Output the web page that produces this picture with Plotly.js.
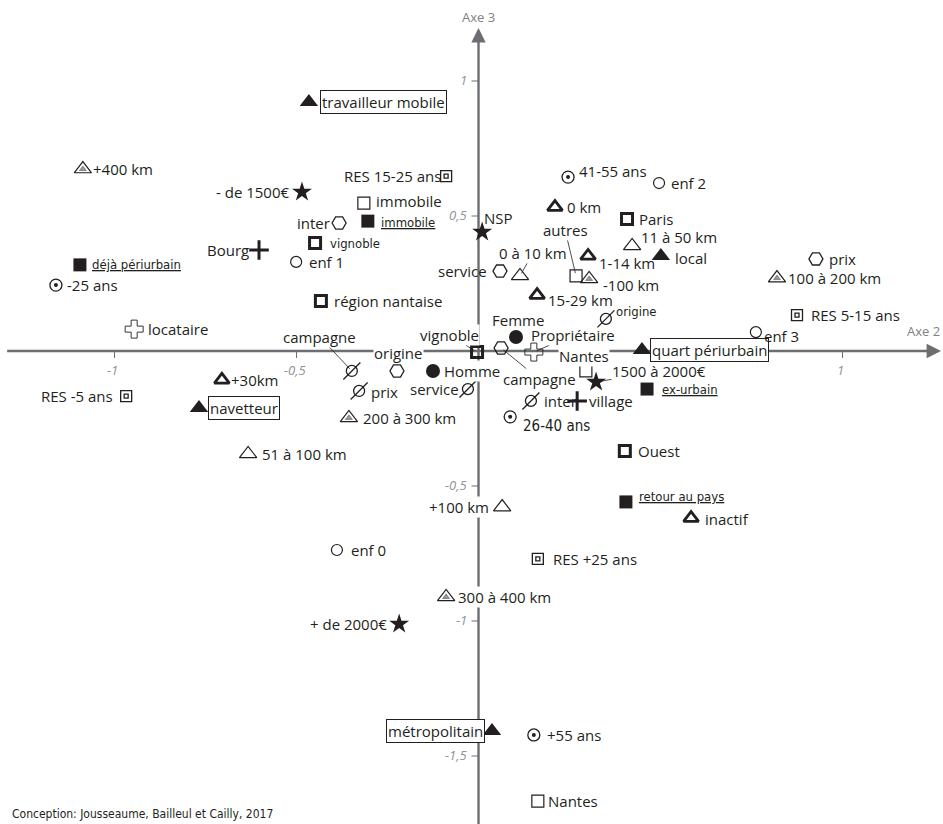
<!DOCTYPE html>
<html><head><meta charset="utf-8">
<script src="https://cdn.plot.ly/plotly-3.0.1.min.js"></script>
<style>html,body{margin:0;padding:0;background:#fff}#chart{width:943px;height:824px}</style>
</head><body><div id="chart"></div>
<script>
// ---------- DATA (coordinates on Axe 2 / Axe 3) ----------
const filledTriLabels = ['travailleur mobile','local','quart périurbain','navetteur','métropolitain'];
const filledTriX = [-0.466, 0.501, 0.449, -0.768, 0.037];
const filledTriY = [0.922, 0.352, 0.004, -0.211, -1.407];

const boldTriLabels = ['0 km','1-14 km','15-29 km','+30km','inactif'];
const boldTriX = [0.210, 0.301, 0.161, -0.705, 0.584];
const boldTriY = [0.533, 0.352, 0.207, -0.107, -0.619];

const thinTriLabels = ['11 à 50 km','0 à 10 km','51 à 100 km','+100 km'];
const thinTriX = [0.422, 0.114, -0.633, 0.065];
const thinTriY = [0.389, 0.278, -0.381, -0.578];

const dotTriLabels = ['+400 km','-100 km','100 à 200 km','200 à 300 km','300 à 400 km'];
const dotTriX = [-1.087, 0.304, 0.820, -0.356, -0.089];
const dotTriY = [0.674, 0.267, 0.270, -0.248, -0.911];

const thinSqLabels = ['immobile','autres','Nantes','Nantes'];
const thinSqX = [-0.315, 0.268, 0.295, 0.163];
const thinSqY = [0.548, 0.278, -0.074, -1.667];

const boldSqLabels = ['vignoble','Paris','région nantaise','Ouest','vignoble'];
const boldSqX = [-0.449, 0.408, -0.433, 0.402, -0.004];
const boldSqY = [0.400, 0.489, 0.185, -0.370, -0.004];

const filledSqLabels = ['immobile','déjà périurbain','ex-urbain','retour au pays'];
const filledSqX = [-0.304, -1.095, 0.463, 0.405];
const filledSqY = [0.481, 0.319, -0.141, -0.559];

const resLabels = ['RES 15-25 ans','RES -5 ans','RES 5-15 ans','RES +25 ans'];
const resX = [-0.089, -0.968, 0.875, 0.163];
const resY = [0.648, -0.167, 0.133, -0.770];

const enfLabels = ['enf 1','enf 2','enf 3','enf 0'];
const enfX = [-0.501, 0.496, 0.762, -0.389];
const enfY = [0.330, 0.622, 0.070, -0.737];

const ageLabels = ['-25 ans','26-40 ans','41-55 ans','+55 ans'];
const ageX = [-1.161, 0.087, 0.246, 0.152];
const ageY = [0.244, -0.244, 0.644, -1.422];

const sexLabels = ['Femme','Homme'];
const sexX = [0.103, -0.125];
const sexY = [0.052, -0.074];

const revenuLabels = ['- de 1500€','NSP','1500 à 2000€','+ de 2000€'];
const revenuX = [-0.485, 0.010, 0.323, -0.218];
const revenuY = [0.589, 0.441, -0.115, -1.011];

const hexLabels = ['inter','service','prix','origine','campagne'];
const hexX = [-0.383, 0.059, 0.927, -0.224, 0.062];
const hexY = [0.474, 0.296, 0.341, -0.074, 0.011];

const slashLabels = ['campagne','prix','service','origine','inter'];
const slashX = [-0.348, -0.328, -0.029, 0.350, 0.144];
const slashY = [-0.074, -0.148, -0.141, 0.119, -0.185];

const plusLabels = ['Bourg','village'];
const plusX = [-0.603, 0.271];
const plusY = [0.374, -0.185];

const statutLabels = ['locataire','Propriétaire'];
const statutX = [-0.946, 0.152];
const statutY = [0.081, -0.004];

const xTickVals = [-1, -0.5, 1];
const xTickText = ['-1', '-0,5', '1'];
const yTickVals = [1, 0.5, -0.5, -1, -1.5];
const yTickText = ['1', '0,5', '-0,5', '-1', '-1,5'];

// ---------- LABEL PLACEMENT (pixel offsets, styles) ----------
const filledTriPlace = [{dx:11,box:1},{dx:13,dy:2},{dx:8,box:1},{dx:9,box:1},{dx:-7,an:'r',box:1}];
const boldTriPlace = [{dx:11},{dx:10,dy:7},{dx:10,dy:5},{dx:8},{dx:13,dy:1}];
const thinTriPlace = [{dx:8,dy:-9},{lead:[13,-23]},{dx:13},{dx:-12,an:'r',bg:1}];
const dotTriPlace = [{dx:9},{dx:13,dy:6},{dx:10},{dx:13},{dx:11,bg:1}];
const thinSqPlace = [{dx:11,dy:-2},{lead:[-11,-46]},{dx:-2,dy:-15,an:'c',bg:1},{dx:9}];
const boldSqPlace = [{dx:14,st:'c'},{dx:11},{dx:12},{dx:12},{lead:[-28,-17],bg:1}];
const filledSqPlace = [{dx:12,dy:1,st:'u'},{dx:11,st:'u'},{dx:14,st:'u'},{dx:12,dy:-5,st:'u'}];
const resPlace = [{dx:-4,an:'r'},{dx:-12,an:'r'},{dx:13},{dx:14}];
const enfPlace = [{dx:12},{dx:11},{dx:7,dy:4},{dx:13}];
const agePlace = [{dx:10},{dx:12,dy:9,st:'C'},{dx:10,dy:-6},{dx:12}];
const sexPlace = [{dx:2,dy:-17,an:'c'},{dx:10,bg:1}];
const revenuPlace = [{dx:-11,an:'r'},{dx:1,dy:-14},{lead:[63,-11]},{dx:-11,an:'r'}];
const hexPlace = [{dx:-8,an:'r'},{dx:-12,an:'r'},{dx:12},{dx:2,dy:-18,an:'c',bg:1},{lead:[38,31]}];
const slashPlace = [{lead:[-32,-34]},{dx:11,dy:1},{dx:-8,an:'r'},{dx:9,dy:-7,st:'c'},{dx:12}];
const plusPlace = [{dx:-9,an:'r'},{dx:11}];
const statutPlace = [{dx:13},{lead:[39,-17]}];

// ---------- STYLE ----------
const INK = '#231f20';
const AXIS = '#6d6e71';
const TICK = '#8f939a';
const textFont = {family:'Open Sans, Noto Sans, sans-serif', size:15, color:INK};
const condFont = {family:'Liberation Sans Narrow, DejaVu Sans Condensed, Roboto, sans-serif', size:13, color:INK};
const condFontBig = {family:'Liberation Sans Narrow, DejaVu Sans Condensed, Roboto, sans-serif', size:15, color:INK};

function mk(x, y, symbol, size, opts) {
  opts = opts || {};
  return {
    type:'scatter', mode:'markers', x:x, y:y, hoverinfo:'skip', showlegend:false,
    marker:{symbol:symbol, size:size, color:opts.color || INK,
            line:{width:opts.lw === undefined ? 0 : opts.lw, color:opts.lc || INK}}
  };
}

const traces = [
  mk(filledTriX, filledTriY, 'triangle-up', 16),
  mk(boldTriX, boldTriY, 'triangle-up-open', 13, {lw:2.8}),
  mk(thinTriX, thinTriY, 'triangle-up-open', 15, {lw:1.2}),
  mk(dotTriX, dotTriY, 'triangle-up-open', 15, {lw:1.2}),
  mk(dotTriX, dotTriY, 'triangle-up', 6, {color:'#9a9a9a', lw:0.6, lc:'#555'}),
  mk(thinSqX, thinSqY, 'square-open', 12, {lw:1.2}),
  mk(boldSqX, boldSqY, 'square-open', 11, {lw:3}),
  mk(filledSqX, filledSqY, 'square', 13),
  mk(resX, resY, 'square-open', 11, {lw:1.3}),
  mk(resX, resY, 'square-open', 4, {lw:1.3}),
  mk(enfX, enfY, 'circle-open', 11, {lw:1.2}),
  mk(ageX, ageY, 'circle-open', 12, {lw:1.3}),
  mk(ageX, ageY, 'circle', 4),
  mk(sexX, sexY, 'circle', 14),
  mk(revenuX, revenuY, 'star', 15),
  mk(hexX, hexY, 'hexagon2-open', 14, {lw:1.3}),
  mk(slashX, slashY, 'circle-open', 11, {lw:1.3}),
  mk(slashX, slashY, 'line-ne', 17, {lw:1.3}),
  mk(plusX, plusY, 'cross-thin-open', 14, {lw:3}),
  mk(statutX, statutY, 'cross-open', 15, {lw:0.9})
];

function labelAnn(text, x, y, p) {
  const a = {x:x, y:y, xref:'x', yref:'y', text:text, showarrow:false,
    font:(p.st === 'u' || p.st === 'c') ? condFont : (p.st === 'C' ? condFontBig : textFont),
    xanchor:{l:'left', r:'right', c:'center'}[p.an || 'l'], yanchor:'middle',
    xshift:p.dx || 0, yshift:-(p.dy || 0), borderpad:0};
  if (p.st === 'u') a.text = '<u>' + text + '</u>';
  if (p.box) { a.bordercolor = INK; a.borderwidth = 1; a.borderpad = 1; a.bgcolor = '#fff'; }
  if (p.bg) a.bgcolor = '#fff';
  if (p.lead) {
    a.showarrow = true; a.arrowhead = 0; a.arrowwidth = 0.8; a.arrowcolor = INK;
    a.ax = p.lead[0]; a.ay = p.lead[1]; a.xanchor = 'center'; a.xshift = 0; a.yshift = 0; a.standoff = 3;
  }
  return a;
}

const groups = [
  [filledTriLabels, filledTriX, filledTriY, filledTriPlace],
  [boldTriLabels, boldTriX, boldTriY, boldTriPlace],
  [thinTriLabels, thinTriX, thinTriY, thinTriPlace],
  [dotTriLabels, dotTriX, dotTriY, dotTriPlace],
  [thinSqLabels, thinSqX, thinSqY, thinSqPlace],
  [boldSqLabels, boldSqX, boldSqY, boldSqPlace],
  [filledSqLabels, filledSqX, filledSqY, filledSqPlace],
  [resLabels, resX, resY, resPlace],
  [enfLabels, enfX, enfY, enfPlace],
  [ageLabels, ageX, ageY, agePlace],
  [sexLabels, sexX, sexY, sexPlace],
  [revenuLabels, revenuX, revenuY, revenuPlace],
  [hexLabels, hexX, hexY, hexPlace],
  [slashLabels, slashX, slashY, slashPlace],
  [plusLabels, plusX, plusY, plusPlace],
  [statutLabels, statutX, statutY, statutPlace]
];

const annotations = [];
// axis arrowheads
annotations.push({x:1.2706, y:0, xref:'x', yref:'y', ax:-16, ay:0, text:'', showarrow:true,
  arrowhead:2, arrowsize:1.2, arrowwidth:2.4, arrowcolor:AXIS, standoff:0});
annotations.push({x:0, y:1.196, xref:'x', yref:'y', ax:0, ay:16, text:'', showarrow:true,
  arrowhead:2, arrowsize:1.2, arrowwidth:2.4, arrowcolor:AXIS, standoff:0});
// tick labels
const tickFont = {family:'Open Sans, sans-serif', size:13, color:TICK};
xTickVals.forEach((v, i) => annotations.push({x:v, y:0, xref:'x', yref:'y', text:'<i>' + xTickText[i] + '</i>',
  showarrow:false, font:tickFont, xanchor:'center', yanchor:'middle', yshift:-19, xshift:-2}));
yTickVals.forEach((v, i) => annotations.push({x:0, y:v, xref:'x', yref:'y', text:'<i>' + yTickText[i] + '</i>',
  showarrow:false, font:tickFont, xanchor:'right', yanchor:'middle', xshift:-10, yshift:1}));
// axis titles
annotations.push({x:0, y:1, xref:'x', yref:'paper', text:'Axe 3', showarrow:false,
  font:{family:'Open Sans, sans-serif', size:13, color:'#808285'}, xanchor:'center', yanchor:'top', yshift:-6});
annotations.push({x:1, y:0, xref:'paper', yref:'y', text:'Axe 2', showarrow:false,
  font:{family:'Open Sans, sans-serif', size:13, color:'#808285'}, xanchor:'right', yanchor:'middle', yshift:20, xshift:-1});
// credit
annotations.push({x:0, y:0, xref:'paper', yref:'paper', text:'Conception: Jousseaume, Bailleul et Cailly, 2017',
  showarrow:false, font:{family:'Liberation Sans Narrow, DejaVu Sans Condensed, Roboto, sans-serif', size:12, color:INK},
  xanchor:'left', yanchor:'bottom', xshift:10, yshift:1});
// point labels
groups.forEach(g => g[0].forEach((lab, i) => annotations.push(labelAnn(lab, g[1][i], g[2][i], g[3][i]))));

// axis lines and ticks as shapes below the marks
const shapes = [
  {type:'line', xref:'x', yref:'y', x0:-1.295, x1:1.245, y0:0, y1:0, layer:'below', line:{color:AXIS, width:2.4}},
  {type:'line', xref:'x', yref:'y', x0:0, x1:0, y0:-1.76, y1:1.17, layer:'below', line:{color:AXIS, width:2.4}}
];
xTickVals.forEach(v => shapes.push({type:'line', xref:'x', yref:'y', ysizemode:'pixel', yanchor:0,
  x0:v, x1:v, y0:0, y1:-7, layer:'below', line:{color:AXIS, width:1}}));
yTickVals.forEach(v => shapes.push({type:'line', xref:'x', yref:'y', xsizemode:'pixel', xanchor:0,
  x0:-7, x1:0, y0:v, y1:v, layer:'below', line:{color:AXIS, width:1}}));

const axisCommon = {showgrid:false, zeroline:false, showticklabels:false, showline:false, ticks:'', fixedrange:true};
const layout = {
  width:943, height:824, margin:{l:0, r:0, t:0, b:0, pad:0},
  paper_bgcolor:'#fff', plot_bgcolor:'#fff', showlegend:false,
  xaxis:Object.assign({range:[-1.3146, 1.2761]}, axisCommon),
  yaxis:Object.assign({range:[-1.7519, 1.3]}, axisCommon),
  shapes:shapes, annotations:annotations
};
Plotly.newPlot('chart', traces, layout, {staticPlot:true, displayModeBar:false});
</script>
</body></html>
